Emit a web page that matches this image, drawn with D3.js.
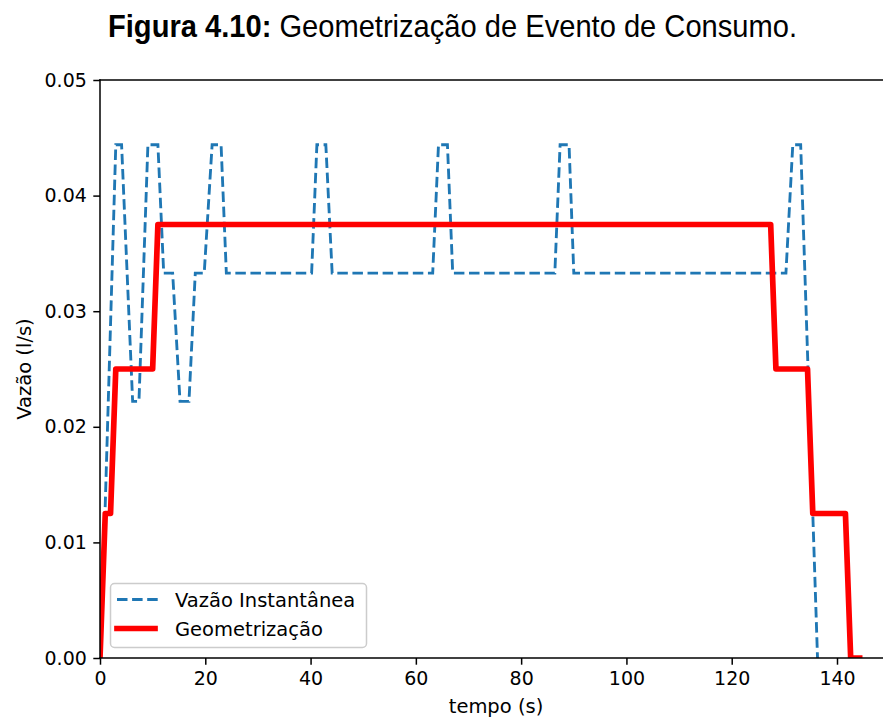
<!DOCTYPE html>
<html>
<head>
<meta charset="utf-8">
<script src="https://cdn.jsdelivr.net/npm/d3@7"></script>
<style>
  body { margin: 0; background: #fff; overflow: hidden; }
  svg { display: block; }
  text { font-family: "DejaVu Sans", sans-serif; fill: #000; }
</style>
</head>
<body>
<script>

// instantaneous flow (dashed) : time (s) / flow (l/s)
var instT = [0, 1, 3.0, 4.1, 6.2, 7.4, 9.1, 11.0, 12.1, 13.8, 15.2, 16.9, 18.1, 19.8, 21.3, 23.0, 24.0,
             40.2, 41.2, 42.9, 44.1, 63.2, 64.3, 66.0, 67.0, 86.4, 87.4, 89.1, 90.0,
             130.3, 131.6, 133.1, 136.3];
var instV = [0, 0.0133, 0.0444, 0.0444, 0.0222, 0.0222, 0.0444, 0.0444, 0.0333, 0.0333, 0.0222, 0.0222, 0.0333, 0.0333, 0.0444, 0.0444, 0.0333,
             0.0333, 0.0444, 0.0444, 0.0333, 0.0333, 0.0444, 0.0444, 0.0333, 0.0333, 0.0444, 0.0444, 0.0333,
             0.0333, 0.0444, 0.0444, 0];

// geometrized event (red steps)
var geoT = [0, 1, 2, 3, 10, 11, 127.4, 128.4, 134.4, 135.4, 141.6, 142.6, 144.3];
var geoV = [0, 0.0125, 0.0125, 0.025, 0.025, 0.0375, 0.0375, 0.025, 0.025, 0.0125, 0.0125, 0, 0];

var xTicks = [0, 20, 40, 60, 80, 100, 120, 140];
var yTicks = [0, 0.01, 0.02, 0.03, 0.04, 0.05];

var W = 883, H = 718;
var plotLeft = 100, plotTop = 80, plotBottom = 658;
var xMax = 151.2;
var pxPerSec = (837 - 100) / 140;

var svg = d3.select("body").append("svg")
    .attr("width", W)
    .attr("height", H);

var x = d3.scaleLinear().domain([0, xMax]).range([plotLeft, plotLeft + xMax * pxPerSec]);
var y = d3.scaleLinear().domain([0, 0.05]).range([plotBottom, plotTop]);

svg.append("clipPath").attr("id", "plot-clip")
  .append("rect")
    .attr("x", plotLeft).attr("y", plotTop)
    .attr("width", x(xMax) - plotLeft).attr("height", plotBottom - plotTop);

var plot = svg.append("g").attr("clip-path", "url(#plot-clip)");

var line = d3.line()
    .x(function(d) { return x(d[0]); })
    .y(function(d) { return y(d[1]); });

plot.append("path")
    .datum(d3.zip(instT, instV))
    .attr("d", line)
    .style("fill", "none")
    .style("stroke", "#1f77b4")
    .style("stroke-width", 2.85)
    .style("stroke-dasharray", "10.5,4.6");

plot.append("path")
    .datum(d3.zip(geoT, geoV))
    .attr("d", line)
    .style("fill", "none")
    .style("stroke", "#ff0000")
    .style("stroke-width", 5.7)
    .style("stroke-linejoin", "round")
    .style("stroke-linecap", "square");

// axes
var xAxis = svg.append("g")
    .attr("transform", "translate(0," + plotBottom + ")")
    .call(d3.axisBottom(x).tickValues(xTicks).tickSize(6.7).tickPadding(6.5).tickFormat(d3.format("d")));
var yAxis = svg.append("g")
    .attr("transform", "translate(" + plotLeft + ",0)")
    .call(d3.axisLeft(y).tickValues(yTicks).tickSize(6.7).tickPadding(6.5).tickFormat(d3.format(".2f")));

[xAxis, yAxis].forEach(function(a) {
    a.select(".domain").remove();
    a.selectAll(".tick line").style("stroke", "#000").style("stroke-width", 1.5);
    a.selectAll(".tick text")
        .style("font-family", "DejaVu Sans")
        .style("font-size", "19px")
        .style("fill", "#000");
});

// spines
var spines = [
    [plotLeft, plotTop, plotLeft, plotBottom],
    [plotLeft, plotBottom, x(xMax), plotBottom],
    [plotLeft, plotTop, x(xMax), plotTop],
    [x(xMax), plotTop, x(xMax), plotBottom]
];
svg.selectAll("line.spine")
    .data(spines)
  .enter().append("line")
    .attr("class", "spine")
    .attr("x1", function(d) { return d[0]; })
    .attr("y1", function(d) { return d[1]; })
    .attr("x2", function(d) { return d[2]; })
    .attr("y2", function(d) { return d[3]; })
    .style("stroke", "#000")
    .style("stroke-width", 1.5)
    .style("stroke-linecap", "square");

// axis labels
svg.append("text")
    .attr("x", 496)
    .attr("y", 713)
    .attr("text-anchor", "middle")
    .style("font-size", "19.5px")
    .text("tempo (s)");

svg.append("text")
    .attr("transform", "translate(31," + ((plotTop + plotBottom) / 2) + ") rotate(-90)")
    .attr("text-anchor", "middle")
    .style("font-size", "19.5px")
    .text("Vazão (l/s)");

// title
var title = svg.append("text")
    .attr("x", 452.5)
    .attr("y", 37)
    .attr("text-anchor", "middle")
    .attr("textLength", 689)
    .attr("lengthAdjust", "spacingAndGlyphs")
    .style("font-family", "'Liberation Sans Narrow', 'Liberation Sans', Arial, sans-serif")
    .style("font-size", "32px");
title.append("tspan").style("font-weight", "bold").text("Figura 4.10:");
title.append("tspan").text(" Geometrização de Evento de Consumo.");

// legend
var legend = svg.append("g");
legend.append("rect")
    .attr("x", 110.5).attr("y", 583.5)
    .attr("width", 256).attr("height", 64)
    .attr("rx", 4).attr("ry", 4)
    .style("fill", "#fff").style("fill-opacity", 0.8)
    .style("stroke", "#cccccc").style("stroke-width", 1.5);

var legendItems = [
    { label: "Vazão Instantânea", color: "#1f77b4", width: 2.85, dash: "10.5,4.6", cap: "butt" },
    { label: "Geometrização", color: "#ff0000", width: 5.7, dash: null, cap: "square" }
];
legendItems.forEach(function(it, i) {
    var cy = 599.5 + i * 29;
    legend.append("line")
        .attr("x1", 117).attr("x2", it.cap === "square" ? 155 : 158)
        .attr("y1", cy).attr("y2", cy)
        .style("stroke", it.color)
        .style("stroke-width", it.width)
        .style("stroke-dasharray", it.dash)
        .style("stroke-linecap", it.cap);
    legend.append("text")
        .attr("x", 175)
        .attr("y", cy + 7)
        .style("font-size", "19.5px")
        .text(it.label);
});

</script>
</body>
</html>
